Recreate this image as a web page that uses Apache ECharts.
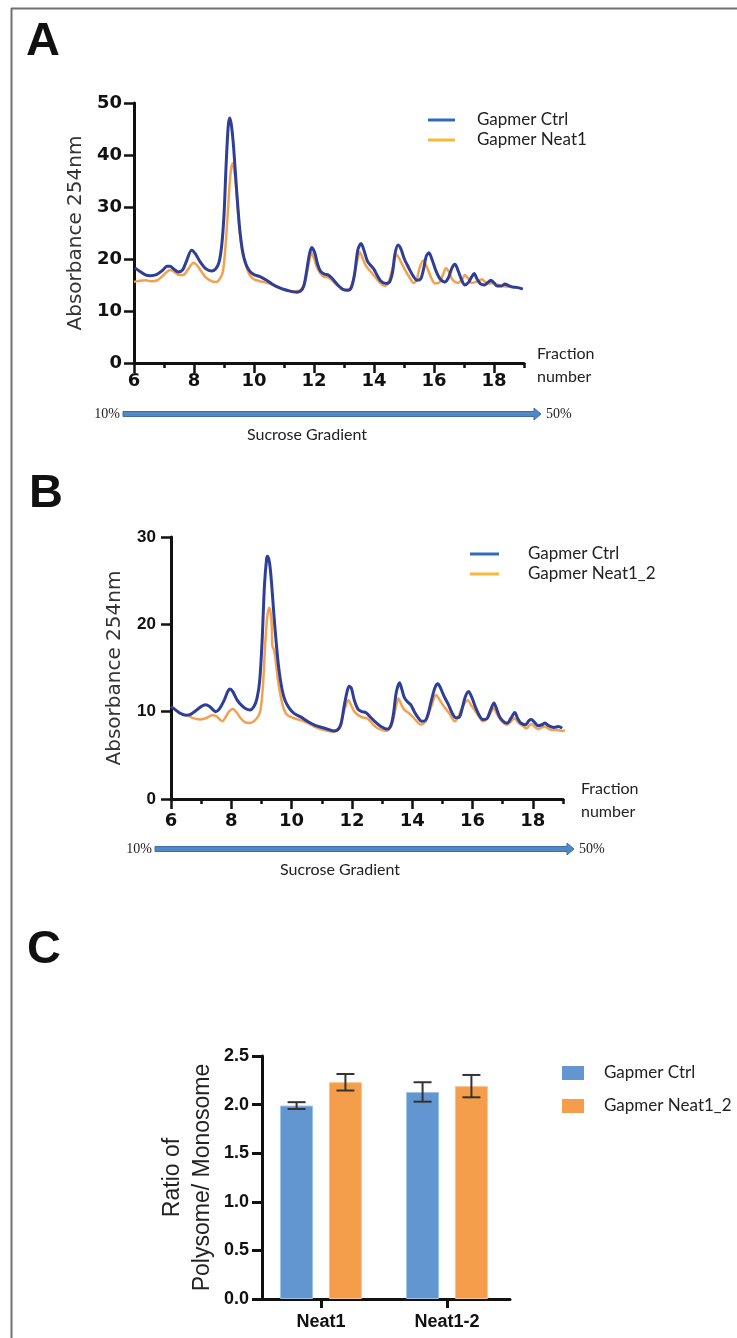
<!DOCTYPE html>
<html>
<head>
<meta charset="utf-8">
<script src="https://cdn.jsdelivr.net/npm/echarts@6/dist/echarts.min.js"></script>
<style>
  html, body { margin: 0; padding: 0; background: #fff; }
  #fig { width: 737px; height: 1338px; }
</style>
</head>
<body>
<div id="fig"></div>
<script>
// ---------- Panel A: polysome profile, Gapmer Ctrl vs Gapmer Neat1 ----------
const fracCtrlA = [6.03,6.2,6.4,6.55,6.75,6.95,7.1,7.2,7.32,7.48,7.62,7.75,7.92,8.05,8.2,8.4,8.58,8.72,8.83,8.92,9.0,9.07,9.14,9.19,9.25,9.32,9.42,9.52,9.62,9.72,9.85,10.0,10.2,10.42,10.6,10.8,11.1,11.42,11.55,11.66,11.75,11.85,11.93,12.03,12.12,12.22,12.35,12.48,12.6,12.78,12.98,13.14,13.25,13.35,13.46,13.57,13.67,13.78,13.9,14.0,14.1,14.22,14.4,14.52,14.62,14.7,14.8,14.9,15.0,15.14,15.3,15.44,15.56,15.65,15.74,15.83,15.94,16.06,16.2,16.36,16.48,16.6,16.7,16.8,16.92,17.03,17.15,17.26,17.34,17.43,17.55,17.68,17.8,17.89,18.0,18.1,18.25,18.36,18.48,18.62,18.8,18.96];
const absCtrlA  = [18.3,17.6,16.9,16.8,17.0,17.8,18.6,18.6,18.1,17.5,17.9,19.6,21.7,21.0,19.5,18.1,17.7,18.1,19.3,22.4,28.5,38,45.5,47.1,45.6,41.5,33.3,26.0,21.5,19.2,17.7,17.0,16.6,15.9,15.2,14.6,14.0,13.6,13.8,14.8,17.5,21.0,22.2,21.1,19.0,17.6,17.1,16.9,16.3,15.1,14.1,14.0,14.6,17.0,21.7,23.0,21.6,19.6,18.7,18.0,16.9,15.8,15.3,15.6,17.5,21.0,22.7,21.9,20.2,18.5,16.8,15.9,16.2,18.0,20.5,21.2,19.8,17.8,16.2,15.6,16.4,18.3,19.0,17.8,16.0,15.0,15.5,16.6,17.2,16.2,15.2,15.0,15.5,15.9,15.4,14.8,14.8,15.2,14.9,14.6,14.5,14.2];

const fracNeatA = [6.0,6.2,6.4,6.6,6.8,7.0,7.2,7.35,7.5,7.64,7.8,7.98,8.1,8.22,8.4,8.6,8.75,8.87,8.96,9.03,9.1,9.16,9.22,9.28,9.33,9.39,9.46,9.53,9.62,9.72,9.85,10.0,10.3,10.6,10.95,11.2,11.5,11.62,11.72,11.82,11.92,12.02,12.12,12.3,12.48,12.62,12.78,13.05,13.2,13.3,13.42,13.53,13.63,13.72,13.9,14.1,14.25,14.37,14.5,14.62,14.76,14.9,15.05,15.2,15.32,15.42,15.52,15.64,15.76,15.9,16.03,16.18,16.3,16.4,16.5,16.62,16.8,16.93,17.03,17.13,17.25,17.4,17.52,17.6,17.7,17.82,17.98,18.1,18.28,18.45,18.6];
const absNeatA  = [15.6,15.8,15.9,15.7,16.0,17.0,17.9,17.5,16.9,16.9,18.0,19.3,18.8,17.8,16.4,15.7,15.6,16.3,17.5,21,26.5,32,36.5,38.4,37.5,34.6,29.5,24.9,21,19.0,17.0,16.1,15.6,15.1,14.1,13.8,13.9,14.5,16.0,19.0,21.1,19.8,18.1,16.7,16.4,15.8,14.9,14.0,14.3,15.8,19.0,21.3,20.0,18.8,17.5,16.1,15.2,14.8,15.8,18.3,20.8,19.4,17.7,16.3,15.4,16.0,18.3,19.7,18.5,16.5,15.3,15.5,17.0,18.2,17.5,16.0,15.4,16.0,16.9,16.3,15.4,15.6,15.9,16.1,15.6,15.3,15.4,15.1,14.8,14.7,14.6];

// ---------- Panel B: polysome profile, Gapmer Ctrl vs Gapmer Neat1_2 ----------
const fracCtrlB = [6.0,6.15,6.31,6.5,6.65,6.86,7.0,7.14,7.28,7.4,7.48,7.6,7.75,7.88,7.95,8.05,8.2,8.35,8.5,8.62,8.75,8.85,8.94,9.02,9.1,9.17,9.2,9.27,9.34,9.41,9.5,9.58,9.68,9.78,9.92,10.08,10.3,10.52,10.8,11.1,11.41,11.55,11.64,11.74,11.84,11.91,11.98,12.08,12.2,12.33,12.46,12.58,12.72,12.96,13.18,13.3,13.38,13.47,13.58,13.66,13.74,13.85,13.95,14.07,14.2,14.31,14.44,14.53,14.65,14.76,14.85,14.94,15.05,15.2,15.33,15.45,15.57,15.66,15.76,15.87,15.98,16.1,16.22,16.34,16.48,16.6,16.71,16.8,16.9,17.05,17.15,17.28,17.4,17.5,17.6,17.75,17.88,17.95,18.05,18.17,18.3,18.4,18.52,18.7,18.85,18.97];
const absCtrlB  = [10.6,10.2,9.8,9.6,9.7,10.2,10.6,10.8,10.6,10.2,10.0,10.3,11.2,12.3,12.6,12.3,11.3,10.7,10.3,10.2,10.6,11.5,13.5,18,24.5,27.5,27.8,27.0,24.5,21.2,17.5,14.8,12.6,11.3,10.4,9.8,9.4,8.9,8.4,8.1,7.8,8.0,8.6,10.6,12.3,12.9,12.7,11.3,10.3,10.0,9.9,9.5,9.0,8.3,8.0,8.5,9.8,12.2,13.3,12.5,11.6,11.1,10.8,10.0,9.3,8.9,9.0,9.8,11.5,12.8,13.2,12.7,11.8,10.8,9.8,9.3,9.4,10.4,11.7,12.3,11.6,10.5,9.6,9.1,9.2,10.2,11.0,10.3,9.4,8.8,8.7,9.3,9.9,9.2,8.7,8.5,9.0,9.1,8.8,8.4,8.5,8.7,8.4,8.2,8.3,8.1];

const fracNeatB = [6.59,6.8,6.98,7.2,7.36,7.5,7.62,7.7,7.8,7.92,8.05,8.18,8.31,8.45,8.6,8.75,8.88,8.97,9.05,9.12,9.19,9.25,9.3,9.34,9.36,9.42,9.47,9.55,9.64,9.75,9.86,10.08,10.41,10.75,11.08,11.41,11.55,11.65,11.76,11.88,11.98,12.08,12.3,12.52,12.68,12.85,13.13,13.28,13.38,13.46,13.54,13.64,13.74,13.9,14.02,14.15,14.29,14.42,14.51,14.65,14.79,14.9,15.01,15.12,15.23,15.35,15.42,15.52,15.62,15.74,15.84,15.96,16.07,16.2,16.34,16.51,16.62,16.71,16.8,16.9,17.0,17.12,17.25,17.38,17.5,17.62,17.79,17.88,17.95,18.05,18.17,18.3,18.4,18.5,18.62,18.8,18.95,19.15,19.3];
const absNeatB  = [9.5,9.2,9.1,9.3,9.6,9.5,9.1,8.9,9.3,10.0,10.3,9.9,9.25,8.8,8.7,8.9,9.4,10.2,13,17.5,20.8,21.9,21.4,20.0,17.6,17.0,15.9,13.5,11.7,10.2,9.6,9.25,8.9,8.3,7.9,7.7,8.0,8.9,10.3,11.3,10.7,10.0,9.4,9.2,8.6,8.1,7.8,8.2,9.2,10.6,11.5,10.8,10.2,9.8,9.4,8.9,8.5,8.8,9.4,10.8,11.9,11.4,10.8,10.3,9.8,9.1,8.9,9.4,10.2,11.0,11.3,10.7,10.2,9.5,8.9,9.25,10.0,10.4,9.8,9.25,8.8,8.5,8.8,9.25,8.8,8.5,8.1,8.4,8.6,8.3,8.0,8.2,8.3,8.1,7.9,7.9,7.8,7.9,8.0];

// ---------- Panel C: polysome / monosome ratio (mean ± error) ----------
const groups    = ['Neat1', 'Neat1-2'];
const ctrlMean  = [1.99, 2.13];
const ctrlErr   = [0.035, 0.10];
const neatMean  = [2.23, 2.19];
const neatErr   = [0.085, 0.115];

// tick labels
const fractionTicks = [6, 8, 10, 12, 14, 16, 18];

const zip = (xs, ys) => xs.map((x, i) => [x, ys[i]]);

const C_BLUE_LINE = '#2d3f97';
const C_ORANGE_LINE = '#f4a04f';
const C_BLUE_KEY = '#2f6db5';
const C_ORANGE_KEY = '#f6b93a';
const C_BAR_BLUE = '#6196d0';
const C_BAR_ORANGE = '#f49d4b';

const TICK_FONT_WIDE = '"DejaVu Sans"';
const TEXT_FONT = 'Lato';

const axisLine = { show: true, lineStyle: { color: '#111', width: 3 } };

// fraction axis: short tick every fraction, long tick + label on even fractions
function fractionAxes(gridIndex, labelMargin) {
  return [
    {
      type: 'value', gridIndex, position: 'bottom', min: 6, max: 19, interval: 1,
      axisLine, splitLine: { show: false },
      axisTick: { show: true, length: 5, lineStyle: { color: '#111', width: 2.5 } },
      axisLabel: {
        customValues: fractionTicks,
        formatter: v => String(v),
        fontFamily: TICK_FONT_WIDE, fontWeight: 'bold', fontSize: 18, color: '#111', margin: labelMargin
      }
    },
    {
      type: 'value', gridIndex, position: 'bottom', offset: 0, min: 6, max: 19, interval: 1,
      axisLine: { show: false }, splitLine: { show: false }, axisLabel: { show: false },
      axisTick: { show: true, customValues: fractionTicks, length: 10, lineStyle: { color: '#111', width: 2.5 } }
    }
  ];
}

function absorbanceAxis(gridIndex, max, tickFont, tickSize, margin, nameGap) {
  return {
    type: 'value', gridIndex, min: 0, max, interval: 10,
    name: 'Absorbance 254nm', nameLocation: 'middle', nameGap,
    nameTextStyle: { fontFamily: '"DejaVu Sans"', fontSize: 20, color: '#333' },
    axisLine, splitLine: { show: false },
    axisTick: { show: true, length: 10, lineStyle: { color: '#111', width: 2.5 } },
    axisLabel: { fontFamily: tickFont, fontWeight: 'bold', fontSize: tickSize, color: '#111', margin }
  };
}

function profileSeries(name, data, xIdx, yIdx, color, width, z, clip) {
  return {
    type: 'line', name, data, xAxisIndex: xIdx, yAxisIndex: yIdx,
    showSymbol: false, smooth: 0.3, clip,
    lineStyle: { color, width }, itemStyle: { color }, z
  };
}

function lineKey(left, top, names, keyWidth, textPad) {
  return {
    orient: 'vertical', left, top, padding: 0, itemGap: 0, selectedMode: false,
    icon: 'rect', itemWidth: keyWidth, itemHeight: 3,
    textStyle: { fontFamily: TEXT_FONT, fontSize: 17, color: '#222', lineHeight: 20, padding: [0, 0, 0, textPad] },
    data: names.map((n, i) => ({
      name: n,
      itemStyle: { color: i === 0 ? C_BLUE_KEY : C_ORANGE_KEY },
      lineStyle: { color: i === 0 ? C_BLUE_KEY : C_ORANGE_KEY }
    }))
  };
}

// error bar offsets follow barWidth 33 / barGap 48 %
const BAR_W = 33;
const BAR_SHIFT = (BAR_W + BAR_W * 0.48) / 2;

function errorSeries(mean, err, shift) {
  return {
    type: 'custom', xAxisIndex: 4, yAxisIndex: 2, z: 5,
    data: mean.map((m, i) => [i, m - err[i], m + err[i]]),
    renderItem(params, api) {
      const lo = api.coord([api.value(0), api.value(1)]);
      const hi = api.coord([api.value(0), api.value(2)]);
      const x = lo[0] + shift;
      const cap = 9;
      const style = { stroke: '#333', lineWidth: 2 };
      return {
        type: 'group',
        children: [
          { type: 'line', shape: { x1: x, y1: lo[1], x2: x, y2: hi[1] }, style },
          { type: 'line', shape: { x1: x - cap, y1: lo[1], x2: x + cap, y2: lo[1] }, style },
          { type: 'line', shape: { x1: x - cap, y1: hi[1], x2: x + cap, y2: hi[1] }, style }
        ]
      };
    }
  };
}

function gradientArrow(x1, x2, y, labelY, labelX) {
  const h = 2.5, head = 7, hw = 6;
  return [
    {
      type: 'polygon',
      shape: { points: [[x1, y - h], [x2 - head, y - h], [x2 - head, y - hw], [x2, y], [x2 - head, y + hw], [x2 - head, y + h], [x1, y + h]] },
      style: { fill: '#5089c6', stroke: '#3d6ea8', lineWidth: 1 }
    },
    { type: 'text', style: { x: x1 - 3, y, text: '10%', align: 'right', verticalAlign: 'middle', font: '14px "Liberation Serif"', fill: '#222' } },
    { type: 'text', style: { x: x2 + 5, y, text: '50%', align: 'left', verticalAlign: 'middle', font: '14px "Liberation Serif"', fill: '#222' } },
    { type: 'text', style: { x: labelX, y: labelY, text: 'Sucrose Gradient', align: 'center', verticalAlign: 'middle', font: '16px Lato', fill: '#222' } }
  ];
}

function fractionName(x, y) {
  return [
    { type: 'text', style: { x, y, text: 'Fraction', align: 'left', verticalAlign: 'middle', font: '16px Lato', fill: '#222' } },
    { type: 'text', style: { x, y: y + 23, text: 'number', align: 'left', verticalAlign: 'middle', font: '16px Lato', fill: '#222' } }
  ];
}

function panelLetter(t, x, y) {
  return { type: 'text', style: { x, y, text: t, align: 'left', verticalAlign: 'middle', font: 'bold 47px "Liberation Sans"', fill: '#111' } };
}

const option = {
  backgroundColor: '#fff',
  animation: false,
  grid: [
    { left: 134, top: 103, width: 390, height: 260 },
    { left: 171, top: 537, width: 392, height: 262 },
    { left: 258, top: 1056, width: 252, height: 243 }
  ],
  xAxis: [
    ...fractionAxes(0, 9),
    ...fractionAxes(1, 13),
    {
      type: 'category', gridIndex: 2, position: 'bottom', data: groups,
      axisLine, splitLine: { show: false },
      axisTick: { show: true, alignWithLabel: true, length: 9, lineStyle: { color: '#111', width: 3 } },
      axisLabel: { fontFamily: '"Liberation Sans"', fontWeight: 'bold', fontSize: 18, color: '#111', margin: 14 }
    }
  ],
  yAxis: [
    absorbanceAxis(0, 50, TICK_FONT_WIDE, 18, 12, 47),
    absorbanceAxis(1, 30, '"Liberation Sans"', 17, 15, 46),
    {
      type: 'value', gridIndex: 2, min: 0, max: 2.5, interval: 0.5, offset: -4,
      name: 'Ratio of\nPolysome/ Monosome', nameLocation: 'middle', nameGap: 44,
      nameTextStyle: { fontFamily: '"Liberation Sans"', fontSize: 23, color: '#222', lineHeight: 30 },
      axisLine, splitLine: { show: false },
      axisTick: { show: true, length: 10, lineStyle: { color: '#111', width: 3 } },
      axisLabel: { fontFamily: '"Liberation Sans"', fontWeight: 'bold', fontSize: 18, color: '#111', margin: 13, formatter: v => v.toFixed(1) }
    }
  ],
  legend: [
    lineKey(428, 110, ['Gapmer Ctrl', 'Gapmer Neat1'], 27, 17),
    lineKey(470, 544, ['Gapmer Ctrl', 'Gapmer Neat1_2'], 29, 24),
    {
      orient: 'vertical', left: 562, top: 1063, padding: 0, itemGap: 13, selectedMode: false,
      icon: 'rect', itemWidth: 22, itemHeight: 14,
      textStyle: { fontFamily: TEXT_FONT, fontSize: 17, color: '#222', lineHeight: 20, padding: [0, 0, 0, 15] },
      data: [
        { name: 'Gapmer Ctrl', itemStyle: { color: C_BAR_BLUE } },
        { name: 'Gapmer Neat1_2', itemStyle: { color: C_BAR_ORANGE } }
      ]
    }
  ],
  series: [
    profileSeries('Gapmer Neat1', zip(fracNeatA, absNeatA), 0, 0, C_ORANGE_LINE, 2.5, 2, true),
    profileSeries('Gapmer Ctrl', zip(fracCtrlA, absCtrlA), 0, 0, C_BLUE_LINE, 3, 3, true),
    profileSeries('Gapmer Neat1_2', zip(fracNeatB, absNeatB), 2, 1, C_ORANGE_LINE, 2.5, 2, false),
    profileSeries('Gapmer Ctrl', zip(fracCtrlB, absCtrlB), 2, 1, C_BLUE_LINE, 3, 3, true),
    {
      type: 'bar', name: 'Gapmer Ctrl', data: ctrlMean, xAxisIndex: 4, yAxisIndex: 2,
      barWidth: BAR_W, barGap: '48%',
      itemStyle: { color: C_BAR_BLUE, borderColor: '#9fc0e6', borderWidth: 1 }
    },
    {
      type: 'bar', name: 'Gapmer Neat1_2', data: neatMean, xAxisIndex: 4, yAxisIndex: 2,
      barWidth: BAR_W, barGap: '48%',
      itemStyle: { color: C_BAR_ORANGE, borderColor: '#f8c08e', borderWidth: 1 }
    },
    errorSeries(ctrlMean, ctrlErr, -BAR_SHIFT),
    errorSeries(neatMean, neatErr, BAR_SHIFT)
  ],
  graphic: [
    { type: 'line', shape: { x1: 11, y1: 8.5, x2: 737, y2: 8.5 }, style: { stroke: '#707070', lineWidth: 2 } },
    { type: 'line', shape: { x1: 11.5, y1: 8, x2: 11.5, y2: 1338 }, style: { stroke: '#707070', lineWidth: 2 } },
    panelLetter('A', 26, 42),
    panelLetter('B', 29, 494),
    panelLetter('C', 27, 950),
    ...gradientArrow(123, 541, 414, 435, 307),
    ...gradientArrow(155, 574, 849, 870, 340),
    ...fractionName(537, 354),
    ...fractionName(581, 789)
  ]
};

const chart = echarts.init(document.getElementById('fig'), null, { renderer: 'canvas' });
chart.setOption(option);
</script>
</body>
</html>
